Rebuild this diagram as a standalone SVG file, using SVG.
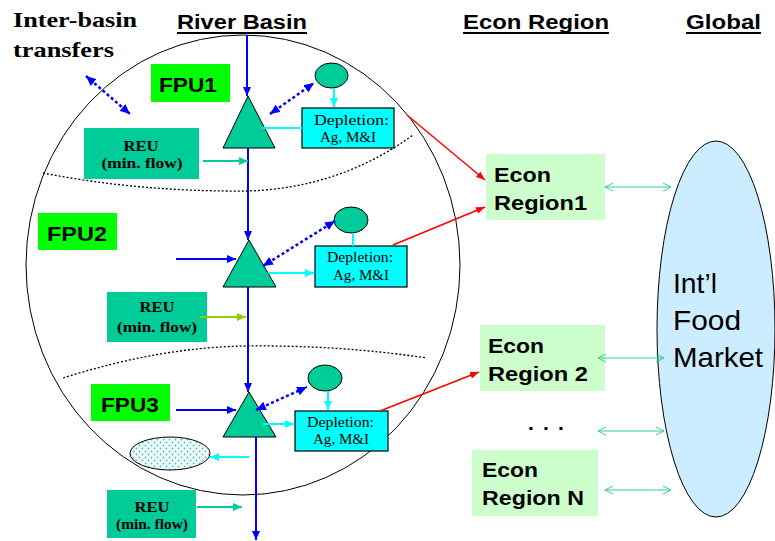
<svg xmlns="http://www.w3.org/2000/svg" width="775" height="541" viewBox="0 0 775 541">
<style>
.rb{stroke:#0000FF;stroke-width:2;fill:none}
.bd{stroke:#0000FF;stroke-width:2.5;stroke-dasharray:3 2.5;fill:none}
.cy{stroke:#00FFFF;stroke-width:2;fill:none}
.tl{stroke:#00CC99;stroke-width:2;fill:none}
.yg{stroke:#99CC00;stroke-width:2;fill:none}
.rd{stroke:#FF0000;stroke-width:1.5;fill:none}
.gr{stroke:#33CC99;stroke-width:1;fill:none}
.bnd{stroke:#000;stroke-width:1.3;stroke-dasharray:2 2;fill:none}
.tri{fill:#00CC99;stroke:#000;stroke-width:1}
.fpu rect{fill:#00FF00}
.reu rect{fill:#00CC99}
.dep rect{fill:#00FFFF;stroke:#000;stroke-width:1.2}
.econ rect{fill:#CCFFCC}
.res{fill:#00CC99;stroke:#000;stroke-width:1}
.hd{font-family:"Liberation Sans",Arial,sans-serif;font-weight:bold;font-size:20px;fill:#000}
.ft{font-family:"Liberation Sans",Arial,sans-serif;font-weight:bold;font-size:21px;fill:#000}
.rt{font-family:"Liberation Serif","Times New Roman",serif;font-weight:bold;font-size:15px;fill:#000;text-anchor:middle}
.dt{font-family:"Liberation Serif","Times New Roman",serif;font-size:15px;fill:#000}
.et{font-family:"Liberation Sans",Arial,sans-serif;font-weight:bold;font-size:21px;fill:#000}
.mt{font-family:"Liberation Sans",Arial,sans-serif;font-size:28px;fill:#000}
.it{font-family:"Liberation Serif","Times New Roman",serif;font-weight:bold;font-size:22px;fill:#000}
</style>
<defs>
<marker id="mB" markerUnits="userSpaceOnUse" markerWidth="9" markerHeight="8" viewBox="0 0 9 8" refX="9" refY="4" orient="auto-start-reverse"><path d="M0,0 L9,4 L0,8 z" fill="#0000FF"/></marker>
<marker id="mBd" markerUnits="userSpaceOnUse" markerWidth="10" markerHeight="9" viewBox="0 0 10 9" refX="10" refY="4.5" orient="auto-start-reverse"><path d="M0,0 L10,4.5 L0,9 z" fill="#0000FF"/></marker>
<marker id="mC" markerUnits="userSpaceOnUse" markerWidth="9" markerHeight="8" viewBox="0 0 9 8" refX="9" refY="4" orient="auto-start-reverse"><path d="M0,0 L9,4 L0,8 z" fill="#00FFFF"/></marker>
<marker id="mT" markerUnits="userSpaceOnUse" markerWidth="9" markerHeight="8" viewBox="0 0 9 8" refX="9" refY="4" orient="auto-start-reverse"><path d="M0,0 L9,4 L0,8 z" fill="#00CC99"/></marker>
<marker id="mY" markerUnits="userSpaceOnUse" markerWidth="9" markerHeight="8" viewBox="0 0 9 8" refX="9" refY="4" orient="auto-start-reverse"><path d="M0,0 L9,4 L0,8 z" fill="#99CC00"/></marker>
<marker id="mR" markerUnits="userSpaceOnUse" markerWidth="9" markerHeight="7" viewBox="0 0 9 7" refX="9" refY="3.5" orient="auto-start-reverse"><path d="M0,0 L9,3.5 L0,7 z" fill="#FF0000"/></marker>
<marker id="mG" markerUnits="userSpaceOnUse" markerWidth="10" markerHeight="10" viewBox="0 0 10 10" refX="9" refY="5" orient="auto-start-reverse"><path d="M1,1 L9,5 L1,9" fill="none" stroke="#33CC99" stroke-width="1"/></marker>
<pattern id="dots" patternUnits="userSpaceOnUse" width="6" height="6"><rect width="6" height="6" fill="#E6FFFF"/><circle cx="1.5" cy="1.5" r="0.9" fill="#88AAAA"/><circle cx="4.5" cy="4.5" r="0.9" fill="#88AAAA"/></pattern>
</defs>

<!-- headings -->
<g id="headings">
<text class="it" x="13" y="27" textLength="124" lengthAdjust="spacingAndGlyphs">Inter-basin</text>
<text class="it" x="13" y="57" textLength="101" lengthAdjust="spacingAndGlyphs">transfers</text>
<text class="hd" x="177" y="29" textLength="130" lengthAdjust="spacingAndGlyphs">River Basin</text>
<line x1="177" y1="33" x2="307" y2="33" stroke="#000" stroke-width="2"/>
<text class="hd" x="463" y="29" textLength="146" lengthAdjust="spacingAndGlyphs">Econ Region</text>
<line x1="463" y1="33" x2="609" y2="33" stroke="#000" stroke-width="2"/>
<text class="hd" x="686" y="29" textLength="75" lengthAdjust="spacingAndGlyphs">Global</text>
<line x1="686" y1="33" x2="761" y2="33" stroke="#000" stroke-width="2"/>
</g>

<!-- basin outline and boundaries -->
<g id="basin">
<ellipse cx="243" cy="265" rx="217" ry="230" fill="none" stroke="#000" stroke-width="1"/>
<path class="bnd" d="M43,173 Q140,192 248,191 Q340,188 413,135"/>
<path class="bnd" d="M63,378 Q160,347 247,346 Q340,345 427,358"/>
</g>

<!-- market -->
<g id="market">
<ellipse cx="716" cy="329" rx="59" ry="188" fill="#CCECFF" stroke="#000" stroke-width="1"/>
<text class="mt" x="673" y="293" textLength="44" lengthAdjust="spacingAndGlyphs">Int’l</text>
<text class="mt" x="673" y="330" textLength="68" lengthAdjust="spacingAndGlyphs">Food</text>
<text class="mt" x="673" y="367" textLength="90" lengthAdjust="spacingAndGlyphs">Market</text>
</g>

<!-- nodes -->
<g id="fpu1" class="fpu"><rect x="151" y="64" width="79" height="38"/><text class="ft" x="159" y="92" textLength="58" lengthAdjust="spacingAndGlyphs">FPU1</text></g>
<g id="fpu2" class="fpu"><rect x="38" y="213" width="79" height="37"/><text class="ft" x="47" y="241" textLength="60" lengthAdjust="spacingAndGlyphs">FPU2</text></g>
<g id="fpu3" class="fpu"><rect x="91" y="384" width="79" height="37"/><text class="ft" x="101" y="412" textLength="58" lengthAdjust="spacingAndGlyphs">FPU3</text></g>

<g id="reu1" class="reu"><rect x="84" y="128" width="115" height="51"/><text class="rt" x="141" y="151" textLength="35" lengthAdjust="spacingAndGlyphs">REU</text><text class="rt" x="142" y="168" textLength="81" lengthAdjust="spacingAndGlyphs">(min. flow)</text></g>
<g id="reu2" class="reu"><rect x="107" y="292" width="100" height="50"/><text class="rt" x="157" y="312" textLength="35" lengthAdjust="spacingAndGlyphs">REU</text><text class="rt" x="157" y="332" textLength="80" lengthAdjust="spacingAndGlyphs">(min. flow)</text></g>
<g id="reu3" class="reu"><rect x="107" y="490" width="89" height="48"/><text class="rt" x="152" y="512" textLength="35" lengthAdjust="spacingAndGlyphs">REU</text><text class="rt" x="152" y="529" font-size="13" textLength="72" lengthAdjust="spacingAndGlyphs">(min. flow)</text></g>

<g id="node1"><polygon class="tri" points="248,96 223,148 275,148"/></g>
<g id="node2"><polygon class="tri" points="249,240 223,287 276,287"/></g>
<g id="node3"><polygon class="tri" points="249,392 223,437 276,437"/></g>

<g id="res1"><ellipse class="res" cx="331.5" cy="75.5" rx="16.5" ry="12.5"/></g>
<g id="res2"><ellipse class="res" cx="351" cy="220" rx="17" ry="13"/></g>
<g id="res3"><ellipse class="res" cx="325" cy="378" rx="17" ry="13"/></g>

<g id="lake"><ellipse cx="170" cy="453.5" rx="40" ry="16.5" fill="url(#dots)" stroke="#000" stroke-width="1"/></g>

<g id="dep1" class="dep"><rect x="302" y="108" width="92" height="40"/><text class="dt" x="314" y="125" textLength="75" lengthAdjust="spacingAndGlyphs">Depletion:</text><text class="dt" x="320" y="142" textLength="56" lengthAdjust="spacingAndGlyphs">Ag, M&amp;I</text></g>
<g id="dep2" class="dep"><rect x="315" y="246" width="92" height="41"/><text class="dt" x="327" y="262" textLength="66" lengthAdjust="spacingAndGlyphs">Depletion:</text><text class="dt" x="333" y="280" textLength="56" lengthAdjust="spacingAndGlyphs">Ag, M&amp;I</text></g>
<g id="dep3" class="dep"><rect x="295" y="411" width="93" height="40"/><text class="dt" x="307" y="427" textLength="67" lengthAdjust="spacingAndGlyphs">Depletion:</text><text class="dt" x="313" y="444" textLength="56" lengthAdjust="spacingAndGlyphs">Ag, M&amp;I</text></g>

<g id="econ1" class="econ"><rect x="486" y="154" width="119" height="66"/><text class="et" x="494" y="182" textLength="57" lengthAdjust="spacingAndGlyphs">Econ</text><text class="et" x="494" y="210" textLength="93" lengthAdjust="spacingAndGlyphs">Region1</text></g>
<g id="econ2" class="econ"><rect x="480" y="325" width="125" height="66"/><text class="et" x="488" y="353" textLength="56" lengthAdjust="spacingAndGlyphs">Econ</text><text class="et" x="488" y="381" textLength="100" lengthAdjust="spacingAndGlyphs">Region 2</text></g>
<g id="econN" class="econ"><rect x="472" y="450" width="126" height="66"/><text class="et" x="482" y="477" textLength="56" lengthAdjust="spacingAndGlyphs">Econ</text><text class="et" x="482" y="505" textLength="102" lengthAdjust="spacingAndGlyphs">Region N</text></g>
<g id="ellipsis"><text class="et" x="528 543 558" y="430" font-size="28">...</text></g>

<!-- connectors -->
<g id="connectors">
<path class="rb" d="M247,35 L247,96" marker-end="url(#mB)"/>
<path class="rb" d="M248,148 L248,240" marker-end="url(#mB)"/>
<path class="rb" d="M248,287 L248,392" marker-end="url(#mB)"/>
<path class="rb" d="M256,437 L256,540" marker-end="url(#mB)"/>
<path class="rb" d="M176,259 L236,259" marker-end="url(#mB)"/>
<path class="rb" d="M176,410 L236,410" marker-end="url(#mB)"/>

<path class="bd" d="M86,76 L130,114" marker-start="url(#mBd)" marker-end="url(#mBd)"/>
<path class="bd" d="M270,114 L314,83" marker-start="url(#mBd)" marker-end="url(#mBd)"/>
<path class="bd" d="M263,266 L335,221" marker-start="url(#mBd)" marker-end="url(#mBd)"/>
<path class="bd" d="M256,410 L307,387" marker-start="url(#mBd)" marker-end="url(#mBd)"/>

<path class="cy" d="M334,88 L334,107" marker-end="url(#mC)"/>
<path class="cy" d="M263,128 L302,128"/>
<path class="cy" d="M353,233 L353,246"/>
<path class="cy" d="M268,273 L314,273" marker-end="url(#mC)"/>
<path class="cy" d="M328,391 L328,410" marker-end="url(#mC)"/>
<path class="cy" d="M263,424 L294,424" marker-end="url(#mC)"/>
<path class="cy" d="M249,457 L210,457" marker-end="url(#mC)"/>

<path class="tl" d="M203,161 L248,161" marker-end="url(#mT)"/>
<path class="yg" d="M200,317 L246,317" marker-end="url(#mY)"/>
<path class="tl" d="M197,507 L242,507" marker-end="url(#mT)"/>

<path class="rd" d="M407,115 L485,180" marker-end="url(#mR)"/>
<path class="rd" d="M393,245 L485,207" marker-end="url(#mR)"/>
<path class="rd" d="M380,411 L479,372" stroke-width="2.5" marker-end="url(#mR)"/>

<path class="gr" d="M605,187 L671,187" marker-start="url(#mG)" marker-end="url(#mG)"/>
<path class="gr" d="M598,358 L664,358" marker-start="url(#mG)" marker-end="url(#mG)"/>
<path class="gr" d="M598,431 L664,431" stroke-width="1.5" marker-start="url(#mG)" marker-end="url(#mG)"/>
<path class="gr" d="M605,490 L671,490" marker-start="url(#mG)" marker-end="url(#mG)"/>
</g>
</svg>
